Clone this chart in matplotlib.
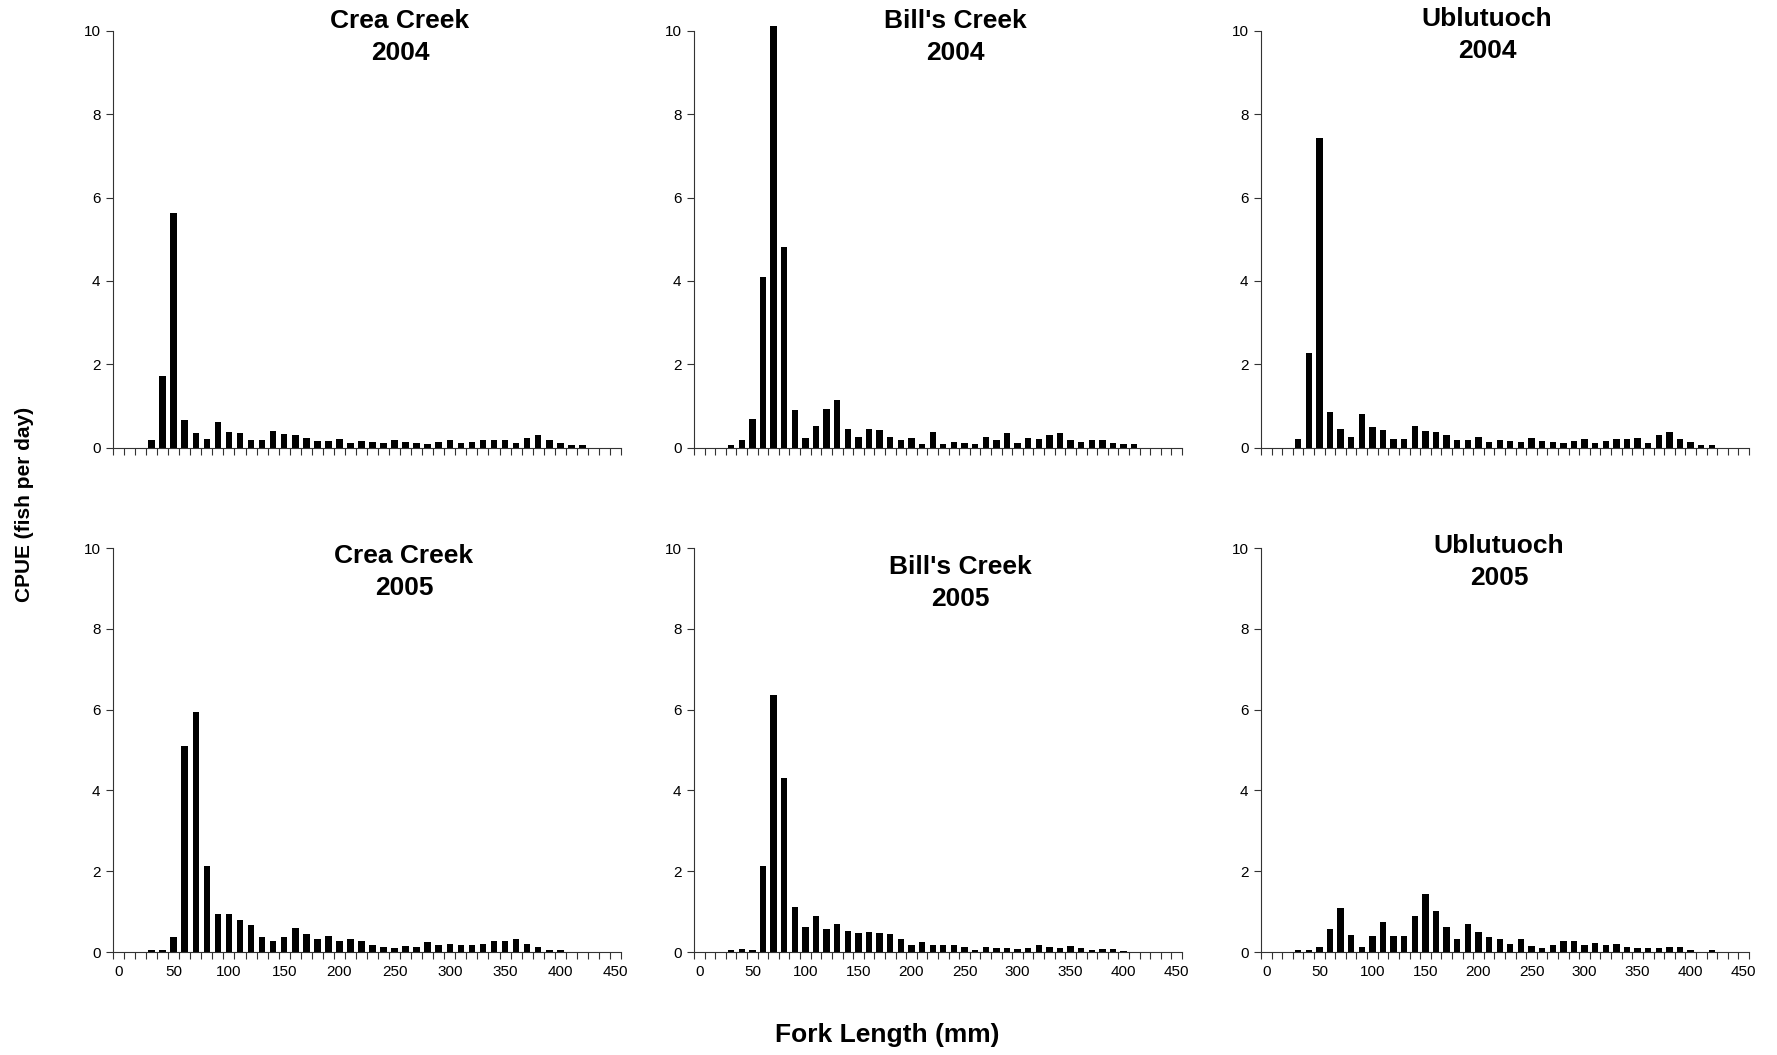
import numpy as np
import matplotlib.pyplot as plt

plt.rcParams['font.family'] = ['Liberation Sans', 'DejaVu Sans']

# CPUE (fish per day) by 10 mm fork-length class, first class is 30 mm
first_class = 30

crea_2004 = [0.17, 1.71, 5.62, 0.66, 0.35, 0.20, 0.62, 0.38, 0.34, 0.17,
             0.17, 0.40, 0.32, 0.30, 0.24, 0.15, 0.15, 0.20, 0.11, 0.15,
             0.13, 0.11, 0.18, 0.13, 0.11, 0.09, 0.14, 0.17, 0.10, 0.14,
             0.17, 0.17, 0.19, 0.10, 0.24, 0.30, 0.17, 0.11, 0.05, 0.05]

bills_2004 = [0.05, 0.18, 0.68, 4.10, 10.12, 4.81, 0.90, 0.24, 0.52, 0.93,
              1.14, 0.45, 0.26, 0.45, 0.42, 0.26, 0.18, 0.24, 0.08, 0.37,
              0.08, 0.13, 0.10, 0.08, 0.26, 0.18, 0.34, 0.10, 0.24, 0.21,
              0.31, 0.34, 0.18, 0.13, 0.18, 0.18, 0.10, 0.08, 0.08]

ublu_2004 = [0.20, 2.26, 7.44, 0.86, 0.45, 0.25, 0.81, 0.50, 0.42, 0.20,
             0.20, 0.51, 0.39, 0.37, 0.30, 0.18, 0.18, 0.25, 0.13, 0.18,
             0.15, 0.13, 0.22, 0.15, 0.13, 0.10, 0.15, 0.20, 0.10, 0.15,
             0.20, 0.20, 0.22, 0.10, 0.30, 0.37, 0.20, 0.13, 0.05, 0.05]

crea_2005 = [0.06, 0.06, 0.36, 5.09, 5.93, 2.13, 0.95, 0.95, 0.80, 0.66,
             0.36, 0.28, 0.36, 0.60, 0.45, 0.31, 0.40, 0.26, 0.32, 0.28,
             0.17, 0.12, 0.11, 0.14, 0.12, 0.24, 0.17, 0.20, 0.17, 0.17,
             0.21, 0.26, 0.28, 0.31, 0.20, 0.12, 0.06, 0.06]

bills_2005 = [0.04, 0.08, 0.06, 2.12, 6.35, 4.31, 1.11, 0.63, 0.88, 0.58,
              0.69, 0.53, 0.48, 0.50, 0.48, 0.45, 0.33, 0.18, 0.24, 0.18,
              0.18, 0.17, 0.13, 0.06, 0.13, 0.09, 0.11, 0.08, 0.11, 0.17,
              0.13, 0.09, 0.14, 0.09, 0.04, 0.08, 0.07, 0.03]

ublu_2005 = [0.06, 0.04, 0.13, 0.56, 1.10, 0.42, 0.12, 0.39, 0.74, 0.39,
             0.40, 0.88, 1.44, 1.01, 0.61, 0.33, 0.70, 0.50, 0.36, 0.32,
             0.20, 0.31, 0.15, 0.11, 0.17, 0.27, 0.26, 0.17, 0.22, 0.17,
             0.20, 0.12, 0.11, 0.11, 0.11, 0.12, 0.12, 0.04, 0.00, 0.04]

W, H = 1777, 1055
fig = plt.figure(figsize=(W / 100, H / 100), dpi=100)

# axes boxes in pixels: left, right, top (y=10), bottom (y=0)
cols = [(113, 621), (694, 1182), (1261, 1749)]
rows = [(31, 447.5), (548, 952)]

panels = [
    ('Crea Creek\n2004', crea_2004, 0, 0, (400, 37)),
    ("Bill's Creek\n2004", bills_2004, 0, 1, (955, 37)),
    ('Ublutuoch\n2004', ublu_2004, 0, 2, (1487, 35)),
    ('Crea Creek\n2005', crea_2005, 1, 0, (404, 572)),
    ("Bill's Creek\n2005", bills_2005, 1, 1, (960, 583)),
    ('Ublutuoch\n2005', ublu_2005, 1, 2, (1499, 562)),
]

for title, values, r, c, (tx, ty) in panels:
    x0, x1 = cols[c]
    y0, y1 = rows[r]
    ax = fig.add_axes([x0 / W, 1 - y1 / H, (x1 - x0) / W, (y1 - y0) / H])
    lengths = first_class + 10 * np.arange(len(values))
    ax.bar(lengths, values, width=6, color='black', clip_on=False)

    ax.set_xlim(-5, 455)
    ax.set_ylim(0, 10)
    ax.set_yticks(np.arange(0, 11, 2))
    ax.set_xticks(np.arange(0, 451, 50))
    ax.set_xticks(np.arange(-5, 456, 10), minor=True)
    ax.tick_params(axis='x', which='major', length=0, pad=9, labelsize=11,
                   labelbottom=(r == 1))
    ax.tick_params(axis='x', which='minor', length=5, width=0.8, color='#333333')
    ax.tick_params(axis='y', length=5, width=0.8, color='#333333', pad=4,
                   labelsize=11)
    for side in ('top', 'right'):
        ax.spines[side].set_visible(False)
    for side in ('left', 'bottom'):
        ax.spines[side].set_linewidth(0.8)
        ax.spines[side].set_color('#333333')

    fig.text(tx / W, 1 - ty / H, title, ha='center', va='center',
             fontsize=19, fontweight='bold', linespacing=1.42)

fig.text(25 / W, 1 - 504 / H, 'CPUE (fish per day)', rotation=90,
         ha='center', va='center', fontsize=15, fontweight='bold')
fig.text(887 / W, 1 - 1035 / H, 'Fork Length (mm)', ha='center', va='center',
         fontsize=19, fontweight='bold')

fig.savefig('out.png', dpi=100, facecolor='white')
